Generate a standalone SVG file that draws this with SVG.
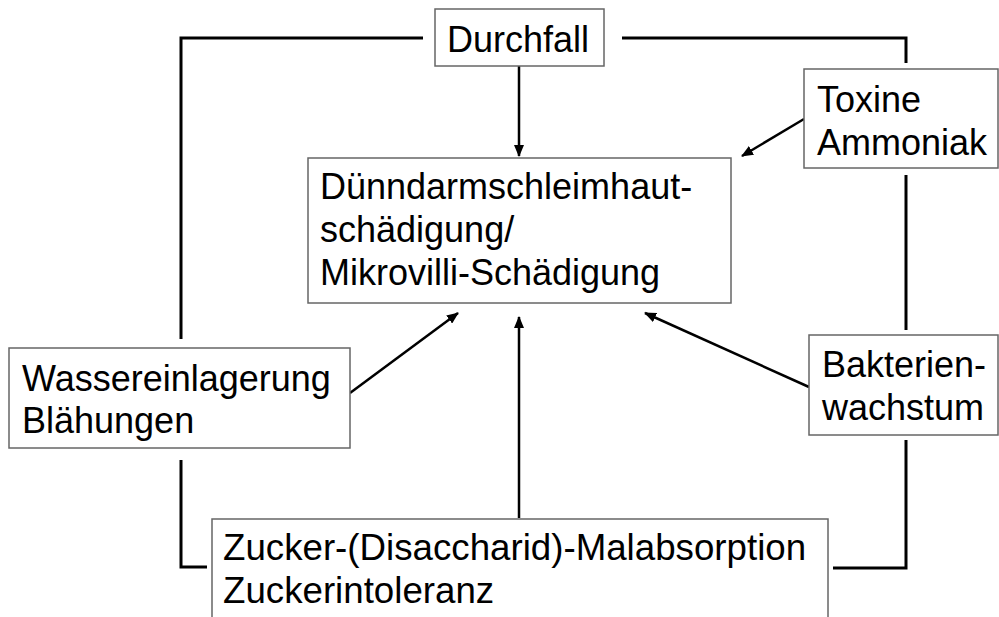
<svg xmlns="http://www.w3.org/2000/svg" width="999" height="617" viewBox="0 0 999 617">
<defs>
<style>
.box{fill:#fff;stroke:#666;stroke-width:1.5}
.t{font-family:"Liberation Sans",Arial,sans-serif;font-size:36px;fill:#000}
.ln{fill:none;stroke:#000;stroke-width:3}
.ar{fill:none;stroke:#000;stroke-width:2.5;marker-end:url(#ah)}
</style>
<marker id="ah" markerUnits="userSpaceOnUse" markerWidth="12" markerHeight="10" refX="11" refY="5" orient="auto">
<path d="M0,0 L12,5 L0,10 Z" fill="#000"/>
</marker>
</defs>
<rect width="999" height="617" fill="#fff"/>
<g id="connectors">
<polyline class="ln" points="423,38 181,38 181,339"/>
<polyline class="ln" points="181,460 181,567 207,567"/>
<polyline class="ln" points="622,38 906,38 906,63"/>
<line class="ln" x1="906" y1="175" x2="906" y2="330"/>
<polyline class="ln" points="906,440 906,568 833,568"/>
<line class="ar" x1="519" y1="66" x2="519" y2="156"/>
<line class="ar" x1="519" y1="518" x2="519" y2="317"/>
<line class="ar" x1="804" y1="119" x2="742" y2="156"/>
<line class="ar" x1="350" y1="393" x2="458" y2="313"/>
<line class="ar" x1="809" y1="387" x2="645" y2="313"/>
</g>
<g id="durchfall">
<rect class="box" x="435" y="9" width="169" height="57"/>
<text class="t" x="447" y="52">Durchfall</text>
</g>
<g id="schaedigung">
<rect class="box" x="308" y="158" width="423" height="145"/>
<text class="t" x="320" y="199">Dünndarmschleimhaut-</text>
<text class="t" x="320" y="242">schädigung/</text>
<text class="t" x="320" y="285">Mikrovilli-Schädigung</text>
</g>
<g id="toxine">
<rect class="box" x="804" y="69" width="194" height="99"/>
<text class="t" x="817" y="112">Toxine</text>
<text class="t" x="817" y="155">Ammoniak</text>
</g>
<g id="wasser">
<rect class="box" x="9" y="348" width="341" height="100"/>
<text class="t" x="22" y="391">Wassereinlagerung</text>
<text class="t" x="22" y="433">Blähungen</text>
</g>
<g id="bakterien">
<rect class="box" x="809" y="335" width="189" height="100"/>
<text class="t" x="822" y="377">Bakterien-</text>
<text class="t" x="822" y="420">wachstum</text>
</g>
<g id="zucker">
<rect class="box" x="212" y="519" width="616" height="110"/>
<text class="t" x="223" y="560" style="font-size:36.7px">Zucker-(Disaccharid)-Malabsorption</text>
<text class="t" x="223" y="603" style="font-size:36.7px">Zuckerintoleranz</text>
</g>
</svg>
